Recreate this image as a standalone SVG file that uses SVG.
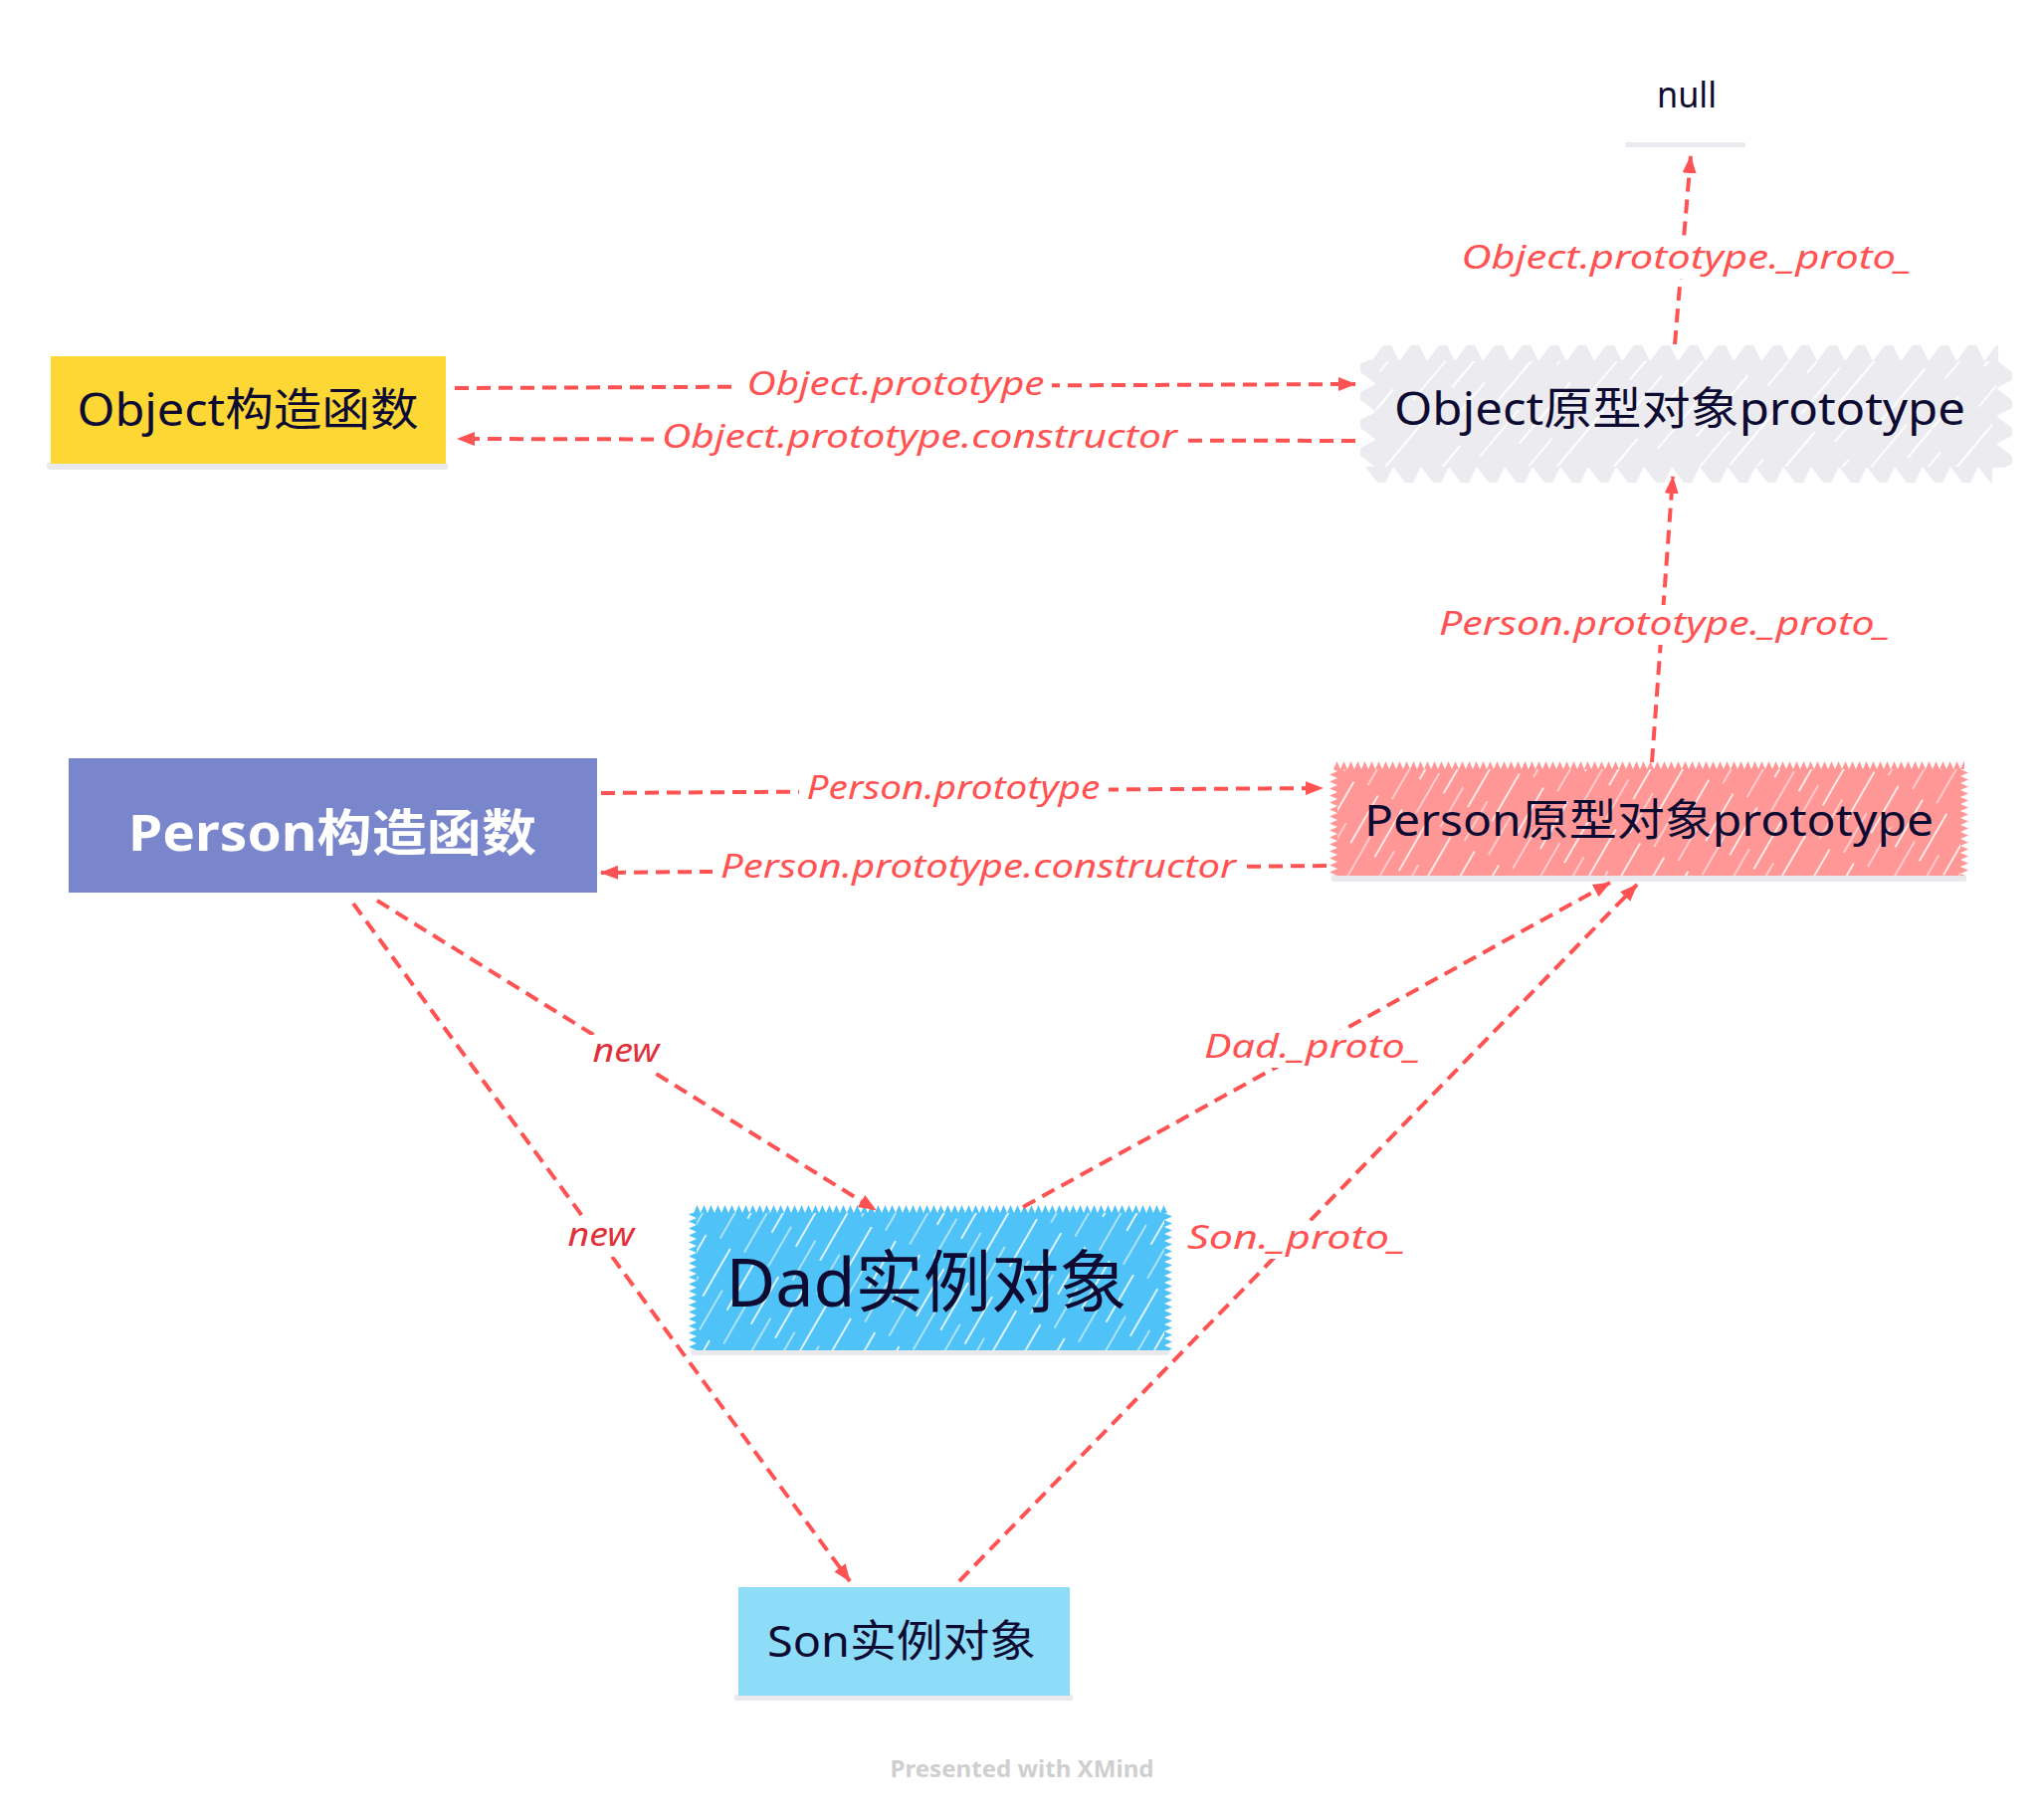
<svg xmlns="http://www.w3.org/2000/svg" width="2054" height="1828" viewBox="0 0 2054 1828">
<style>
.node-text{font-family:"Noto Sans","Noto Sans CJK SC",sans-serif;fill:#0E0B33;text-anchor:middle}
.lbl{font-family:"Noto Sans","Noto Sans CJK SC",sans-serif;font-style:italic;font-size:32px;fill:#FF5252;text-anchor:middle}
.lbl-new{fill:#E0303A}
.conn{fill:none;stroke:#FF5252;stroke-width:4;stroke-dasharray:14 8}
.bg{fill:#fff}
.shadow{fill:#EAE9EE}
</style>
<defs>
<marker id="arr" markerWidth="20" markerHeight="16" refX="17" refY="7" orient="auto" markerUnits="userSpaceOnUse">
<path d="M0,0 L18,7 L0,14 z" fill="#FF5252"/>
</marker>
<pattern id="hatchPink" patternUnits="userSpaceOnUse" width="28" height="90" patternTransform="rotate(30)">
<rect width="28" height="90" fill="#FF9797"/>
<line x1="3" y1="0" x2="3" y2="55" stroke="#fff" stroke-width="1.8" stroke-opacity="0.85"/>
<line x1="17" y1="40" x2="17" y2="86" stroke="#fff" stroke-width="1.4" stroke-opacity="0.7"/>
</pattern>
<pattern id="hatchBlue" patternUnits="userSpaceOnUse" width="28" height="90" patternTransform="rotate(30)">
<rect width="28" height="90" fill="#4FC3F7"/>
<line x1="3" y1="0" x2="3" y2="55" stroke="#fff" stroke-width="1.8" stroke-opacity="0.9"/>
<line x1="17" y1="40" x2="17" y2="86" stroke="#fff" stroke-width="1.4" stroke-opacity="0.75"/>
</pattern>
<pattern id="hatchGray" patternUnits="userSpaceOnUse" width="44" height="120" patternTransform="rotate(40)">
<rect width="44" height="120" fill="#ECEBEF"/>
<line x1="4" y1="0" x2="4" y2="80" stroke="#fff" stroke-width="2.2"/>
<line x1="26" y1="55" x2="26" y2="115" stroke="#fff" stroke-width="1.8"/>
</pattern>
<pattern id="teethPink" patternUnits="userSpaceOnUse" width="7" height="8">
<polygon points="0,8 3.5,0 7,8" fill="#FF9797"/>
</pattern>
<pattern id="teethBlue" patternUnits="userSpaceOnUse" width="7" height="8">
<polygon points="0,8 3.5,0 7,8" fill="#4FC3F7"/>
</pattern>
<pattern id="teethGray" patternUnits="userSpaceOnUse" width="28" height="16">
<polygon points="0,16 12,0 20,0 28,16" fill="#ECEBEF"/>
</pattern>
</defs>
<rect width="2054" height="1828" fill="#fff"/>

<g id="node-object-ctor">
<rect class="shadow" x="47" y="465" width="403" height="7" rx="2"/>
<rect x="51" y="358" width="397" height="108" fill="#FDD835"/>
<text class="node-text" x="249" y="428" font-size="45" textLength="343" lengthAdjust="spacingAndGlyphs">Object构造函数</text>
</g>

<g id="node-object-proto">
<rect x="1382" y="362" width="625" height="108" fill="url(#hatchGray)"/>
<rect x="0" y="0" width="630" height="16" fill="url(#teethGray)" transform="translate(1378,347)"/>
<rect x="0" y="0" width="630" height="16" fill="url(#teethGray)" transform="translate(1372,485) scale(1,-1)"/>
<rect x="0" y="0" width="108" height="16" fill="url(#teethGray)" transform="translate(1367,470) rotate(-90)"/>
<rect x="0" y="0" width="108" height="16" fill="url(#teethGray)" transform="translate(2022,362) rotate(90)"/>
<text class="node-text" x="1688" y="427" font-size="45" textLength="574" lengthAdjust="spacingAndGlyphs">Object原型对象prototype</text>
</g>

<g id="node-null">
<rect class="shadow" x="1633" y="143" width="121" height="5" rx="2"/>
<text class="node-text" x="1695" y="108" font-size="36" textLength="60" lengthAdjust="spacingAndGlyphs">null</text>
</g>

<g id="node-person-ctor">
<rect x="69" y="762" width="531" height="135" fill="#7986CB"/>
<text class="node-text" x="334" y="855" font-size="50" font-weight="bold" style="fill:#fff" textLength="410" lengthAdjust="spacingAndGlyphs">Person构造函数</text>
</g>

<g id="node-person-proto">
<rect class="shadow" x="1338" y="879" width="638" height="7" rx="2"/>
<rect x="1344" y="773" width="626" height="107" fill="url(#hatchPink)"/>
<rect x="0" y="0" width="634" height="8" fill="url(#teethPink)" transform="translate(1340,765)"/>
<rect x="0" y="0" width="107" height="8" fill="url(#teethPink)" transform="translate(1336,880) rotate(-90)"/>
<rect x="0" y="0" width="107" height="8" fill="url(#teethPink)" transform="translate(1978,773) rotate(90)"/>
<text class="node-text" x="1657" y="840" font-size="44" textLength="572" lengthAdjust="spacingAndGlyphs">Person原型对象prototype</text>
</g>

<g id="node-dad">
<rect class="shadow" x="694" y="1356" width="481" height="6" rx="2"/>
<rect x="700" y="1219" width="470" height="138" fill="url(#hatchBlue)"/>
<rect x="0" y="0" width="476" height="8" fill="url(#teethBlue)" transform="translate(697,1211)"/>
<rect x="0" y="0" width="138" height="8" fill="url(#teethBlue)" transform="translate(692,1357) rotate(-90)"/>
<rect x="0" y="0" width="138" height="8" fill="url(#teethBlue)" transform="translate(1178,1219) rotate(90)"/>
<text class="node-text" x="931" y="1313" font-size="68" textLength="403" lengthAdjust="spacingAndGlyphs">Dad实例对象</text>
</g>

<g id="node-son">
<rect class="shadow" x="738" y="1703" width="340" height="6" rx="2"/>
<rect x="742" y="1595" width="333" height="109" fill="#8EDDF8"/>
<text class="node-text" x="906" y="1665" font-size="44" textLength="270" lengthAdjust="spacingAndGlyphs">Son实例对象</text>
</g>

<g id="connectors">
<path class="conn" d="M457,390 L1362,386" marker-end="url(#arr)"/>
<rect class="bg" x="742" y="368" width="315" height="38"/>
<text class="lbl" x="900" y="397" textLength="299" lengthAdjust="spacingAndGlyphs">Object.prototype</text>

<path class="conn" d="M1362,443 L460,441" marker-end="url(#arr)"/>
<rect class="bg" x="657" y="420" width="534" height="38"/>
<text class="lbl" x="924" y="450" textLength="518" lengthAdjust="spacingAndGlyphs">Object.prototype.constructor</text>

<path class="conn" d="M1683,346 L1699,157" marker-end="url(#arr)"/>
<rect class="bg" x="1460" y="240" width="470" height="40"/>
<text class="lbl" x="1695" y="270" textLength="453" lengthAdjust="spacingAndGlyphs">Object.prototype._proto_</text>

<path class="conn" d="M604,797 L1329,792" marker-end="url(#arr)"/>
<rect class="bg" x="803" y="774" width="311" height="38"/>
<text class="lbl" x="958" y="803" textLength="295" lengthAdjust="spacingAndGlyphs">Person.prototype</text>

<path class="conn" d="M1333,870 L604,877" marker-end="url(#arr)"/>
<rect class="bg" x="716" y="852" width="534" height="38"/>
<text class="lbl" x="983" y="882" textLength="518" lengthAdjust="spacingAndGlyphs">Person.prototype.constructor</text>

<path class="conn" d="M1660,766 L1681,479" marker-end="url(#arr)"/>
<rect class="bg" x="1438" y="608" width="470" height="40"/>
<text class="lbl" x="1673" y="638" textLength="454" lengthAdjust="spacingAndGlyphs">Person.prototype._proto_</text>

<path class="conn" d="M379,905 L880,1216" marker-end="url(#arr)"/>
<rect class="bg" x="590" y="1040" width="78" height="38"/>
<text class="lbl lbl-new" x="629" y="1067" textLength="67" lengthAdjust="spacingAndGlyphs">new</text>

<path class="conn" d="M355,908 L854,1589" marker-end="url(#arr)"/>
<rect class="bg" x="565" y="1225" width="78" height="38"/>
<text class="lbl lbl-new" x="604" y="1252" textLength="67" lengthAdjust="spacingAndGlyphs">new</text>

<path class="conn" d="M1028,1213 L1618,887" marker-end="url(#arr)"/>
<rect class="bg" x="1203" y="1035" width="232" height="38"/>
<text class="lbl" x="1319" y="1063" textLength="218" lengthAdjust="spacingAndGlyphs">Dad._proto_</text>

<path class="conn" d="M964,1589 L1645,889" marker-end="url(#arr)"/>
<rect class="bg" x="1186" y="1227" width="234" height="38"/>
<text class="lbl" x="1303" y="1255" textLength="220" lengthAdjust="spacingAndGlyphs">Son._proto_</text>
</g>

<text x="1027" y="1786" font-family="'Noto Sans',sans-serif" font-size="23" font-weight="bold" fill="#CFCFCF" text-anchor="middle" textLength="265" lengthAdjust="spacingAndGlyphs">Presented with XMind</text>
</svg>
